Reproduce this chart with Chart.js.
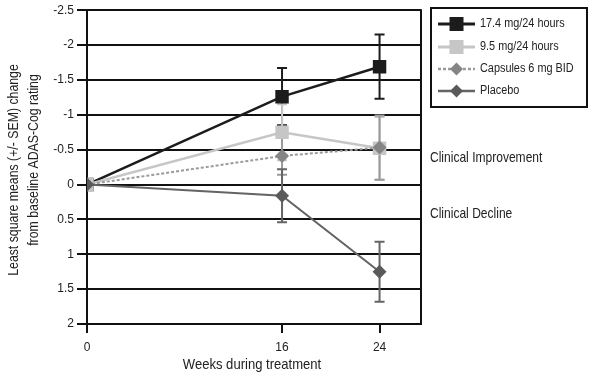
<!DOCTYPE html>
<html>
<head>
<meta charset="utf-8">
<script src="https://cdn.jsdelivr.net/npm/chart.js@4/dist/chart.umd.min.js"></script>
<style>
  html, body { margin: 0; padding: 0; background: #fff; }
  #wrap { width: 590px; height: 380px; position: relative; }
</style>
</head>
<body>
<div id="wrap"><canvas id="c" width="590" height="380"></canvas></div>
<script>
// ---- data ----
const weeks = [0, 16, 24];
const xTickValues = [0, 16, 24];
const yTickLabels = ['-2.5', '-2', '-1.5', '-1', '-0.5', '0', '0.5', '1', '1.5', '2'];
const seriesNames = ['17.4 mg/24 hours', '9.5 mg/24 hours', 'Capsules 6 mg BID', 'Placebo'];
const dose174 = [0, -1.26, -1.69];
const sem174 = [0, 0.41, 0.46];
const dose95 = [0, -0.75, -0.52];
const sem95 = [0, 0.40, 0.45];
const capsules = [0, -0.41, -0.53];
const semCapsules = [0, 0.27, 0.46];
const placebo = [0, 0.16, 1.25];
const semPlacebo = [0, 0.38, 0.43];
const yAxisTitle = ['Least square means (+/- SEM) change', 'from baseline ADAS-Cog rating'];
const xAxisTitle = 'Weeks during treatment';
const annotations = [{ y: -0.38, text: 'Clinical Improvement' }, { y: 0.42, text: 'Clinical Decline' }];

const FONT = '"Liberation Sans", Arial, sans-serif';
const TEXT = '#222';

function pts(vals) { return weeks.map((w, i) => ({ x: w, y: vals[i] })); }

const styles = [
  { color: '#1c1c1c', errColor: '#1c1c1c', point: 'rect', radius: 9.5, width: 2.5, dash: [] },
  { color: '#c6c6c6', errColor: '#c6c6c6', point: 'rect', radius: 9.5, width: 2.5, dash: [] },
  { color: '#9a9a9a', errColor: '#9a9a9a', point: 'rectRot', radius: 7, width: 2, dash: [3, 2], pointColor: '#858585' },
  { color: '#646464', errColor: '#646464', point: 'rectRot', radius: 7, width: 2, dash: [], pointColor: '#5a5a5a' }
];
const values = [dose174, dose95, capsules, placebo];
const sems = [sem174, sem95, semCapsules, semPlacebo];

const datasets = values.map((v, i) => ({
  label: seriesNames[i],
  data: pts(v),
  borderColor: styles[i].color,
  backgroundColor: styles[i].pointColor || styles[i].color,
  pointBackgroundColor: styles[i].pointColor || styles[i].color,
  pointBorderColor: styles[i].pointColor || styles[i].color,
  pointStyle: styles[i].point,
  pointRadius: styles[i].radius,
  pointBorderWidth: 0,
  borderWidth: styles[i].width,
  borderDash: styles[i].dash,
  tension: 0,
  order: 3 - i
}));

// narrow-looking text: horizontally condensed real text
function narrowText(ctx, text, x, y, size, sx, align, rot) {
  ctx.save();
  ctx.translate(x, y);
  if (rot) ctx.rotate(rot);
  ctx.scale(sx, 1);
  ctx.font = size + 'px ' + FONT;
  ctx.textAlign = align || 'left';
  ctx.textBaseline = 'middle';
  ctx.fillStyle = TEXT;
  ctx.fillText(text, 0, 0);
  ctx.restore();
}

const errorBars = {
  id: 'errorBars',
  beforeDatasetsDraw(chart) {
    const xs = chart.scales.x, ys = chart.scales.y;
    const ctx = chart.ctx;
    ctx.save();
    values.forEach((v, i) => {
      ctx.strokeStyle = styles[i].errColor;
      ctx.lineWidth = 2;
      ctx.setLineDash([]);
      weeks.forEach((w, j) => {
        const s = sems[i][j];
        if (!s) return;
        const px = xs.getPixelForValue(w);
        const top = ys.getPixelForValue(v[j] - s);
        const bot = ys.getPixelForValue(v[j] + s);
        ctx.beginPath();
        ctx.moveTo(px, top); ctx.lineTo(px, bot);
        ctx.moveTo(px - 5, top); ctx.lineTo(px + 5, top);
        ctx.moveTo(px - 5, bot); ctx.lineTo(px + 5, bot);
        ctx.stroke();
      });
    });
    ctx.restore();
  }
};

const extras = {
  id: 'extras',
  afterDraw(chart) {
    const ctx = chart.ctx;
    const ca = chart.chartArea;
    const ys = chart.scales.y;
    ctx.save();
    // right border
    ctx.strokeStyle = '#111';
    ctx.lineWidth = 2;
    ctx.beginPath();
    ctx.moveTo(ca.right, ca.top - 1);
    ctx.lineTo(ca.right, ca.bottom + 1);
    ctx.stroke();
    // axis titles
    narrowText(ctx, yAxisTitle[0], 14, 170, 15, 0.82, 'center', -Math.PI / 2);
    narrowText(ctx, yAxisTitle[1], 34, 160, 15, 0.82, 'center', -Math.PI / 2);
    narrowText(ctx, xAxisTitle, (ca.left + ca.right) / 2 - 2, 365, 15, 0.87, 'center', 0);
    // annotations
    annotations.forEach(a => narrowText(ctx, a.text, 430, ys.getPixelForValue(a.y), 14.5, 0.83, 'left', 0));
    // legend
    const bx = 431, by = 8, bw = 156, bh = 99;
    ctx.lineWidth = 2;
    ctx.strokeStyle = '#111';
    ctx.strokeRect(bx, by, bw, bh);
    const rows = [24, 47, 69, 91];
    seriesNames.forEach((name, i) => {
      const y = rows[i];
      const st = styles[i];
      ctx.strokeStyle = st.color;
      ctx.lineWidth = st.width + 0.5;
      ctx.setLineDash(st.dash);
      ctx.beginPath();
      ctx.moveTo(438, y); ctx.lineTo(475, y);
      ctx.stroke();
      ctx.setLineDash([]);
      const pc = st.pointColor || st.color;
      ctx.fillStyle = pc;
      if (st.point === 'rect') {
        ctx.fillRect(456.5 - 7, y - 7, 14, 14);
      } else {
        ctx.beginPath();
        ctx.moveTo(456.5, y - 6.5); ctx.lineTo(463, y); ctx.lineTo(456.5, y + 6.5); ctx.lineTo(450, y);
        ctx.closePath(); ctx.fill();
      }
      narrowText(ctx, name, 480, y, 12.5, 0.87, 'left', 0);
    });
    ctx.restore();
  }
};

new Chart(document.getElementById('c'), {
  type: 'line',
  data: { datasets },
  options: {
    responsive: false,
    animation: false,
    devicePixelRatio: 1,
    layout: { padding: { left: 0, right: 169, top: 9, bottom: 0 } },
    plugins: { legend: { display: false }, tooltip: { enabled: false } },
    scales: {
      x: {
        type: 'linear',
        min: 0, max: 27.4,
        afterBuildTicks(scale) { scale.ticks = xTickValues.map(v => ({ value: v })); },
        afterFit(scale) { scale.height = 56; },
        grid: { display: true, drawOnChartArea: false, drawTicks: true, tickLength: 9, color: '#111', lineWidth: 2 },
        border: { display: false },
        ticks: { color: TEXT, font: { family: FONT, size: 12 }, padding: 7, maxRotation: 0, autoSkip: false },
        title: { display: false }
      },
      y: {
        type: 'linear',
        reverse: true,
        min: -2.5, max: 2,
        afterBuildTicks(scale) {
          scale.ticks = yTickLabels.map(t => ({ value: parseFloat(t) }));
        },
        afterFit(scale) { scale.width = 87; },
        grid: { color: '#111', lineWidth: 2, tickLength: 10 },
        border: { display: true, color: '#111', width: 2 },
        ticks: {
          color: TEXT, font: { family: FONT, size: 12 }, padding: 3,
          callback(v, idx) { return yTickLabels[idx]; }
        },
        title: { display: false }
      }
    }
  },
  plugins: [errorBars, extras]
});
</script>
</body>
</html>
